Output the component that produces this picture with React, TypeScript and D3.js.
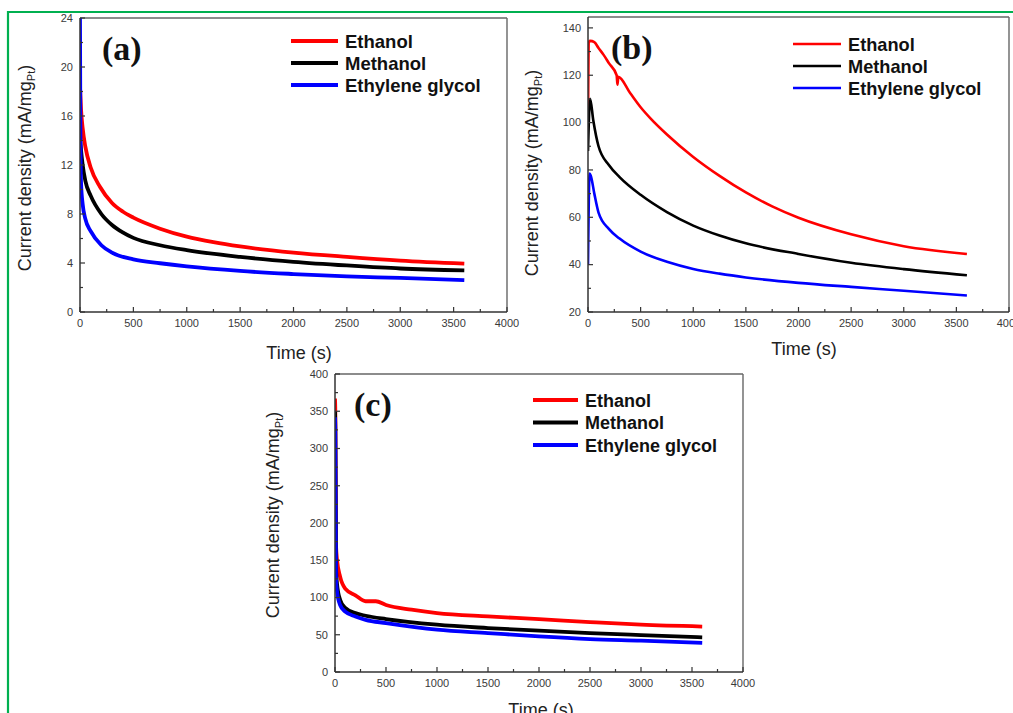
import React from "react";
import * as d3 from "d3";

// ---- Data ----
const xTicks = [0, 500, 1000, 1500, 2000, 2500, 3000, 3500, 4000];
const xMinorTicks = [250, 750, 1250, 1750, 2250, 2750, 3250, 3750];
const seriesNames = ["Ethanol", "Methanol", "Ethylene glycol"];
const seriesColors = ["#ff0000", "#000000", "#0000ff"];

// Panel (a)
const aYTicks = [0, 4, 8, 12, 16, 20, 24];
const aYMinor = [2, 6, 10, 14, 18, 22];
const aEthanol: [number, number][] = [[1, 18.2], [10, 16.5], [25, 15], [50, 13.5], [100, 11.8], [188, 10.2], [300, 8.9], [400, 8.2], [500, 7.7], [750, 6.8], [1000, 6.15], [1250, 5.7], [1500, 5.35], [2000, 4.85], [2500, 4.5], [3000, 4.2], [3600, 3.95]];
const aMethanol: [number, number][] = [[1, 14.2], [10, 13.2], [25, 12], [50, 10.7], [100, 9.5], [200, 8.0], [300, 7.1], [400, 6.5], [500, 6.05], [750, 5.45], [1000, 5.05], [1500, 4.5], [2000, 4.1], [2500, 3.8], [3000, 3.55], [3600, 3.4]];
const aGlycol: [number, number][] = [[0, 24], [3, 16], [10, 10.5], [25, 8.8], [50, 7.6], [100, 6.6], [200, 5.45], [300, 4.85], [500, 4.3], [750, 3.98], [1000, 3.72], [1500, 3.35], [2000, 3.1], [2500, 2.9], [3000, 2.78], [3600, 2.6]];

// Panel (b)
const bYTicks = [20, 40, 60, 80, 100, 120, 140];
const bYMinor = [30, 50, 70, 90, 110, 130];
const bEthanol: [number, number][] = [[0, 100], [8, 134], [20, 134.5], [60, 134], [100, 131.5], [150, 128.5], [200, 125], [272, 120], [280, 116], [288, 119.3], [400, 112.5], [500, 106.5], [600, 101.5], [750, 95], [1000, 85.5], [1250, 77.5], [1500, 70.5], [1750, 64.6], [2000, 59.8], [2500, 52.8], [3000, 47.8], [3600, 44.5]];
const bMethanol: [number, number][] = [[0, 88], [20, 110], [50, 101], [100, 90], [200, 82], [300, 77], [500, 69.5], [750, 62.2], [1000, 56.5], [1250, 52.3], [1500, 49], [2000, 44.5], [2500, 40.8], [3000, 38.1], [3600, 35.5]];
const bGlycol: [number, number][] = [[0, 40], [15, 78.5], [30, 77], [60, 70], [100, 62], [200, 55], [300, 51], [500, 45.5], [750, 41.2], [1000, 38.2], [1250, 36.2], [1500, 34.6], [2000, 32.3], [2500, 30.6], [3000, 29], [3600, 27]];

// Panel (c)
const cYTicks = [0, 50, 100, 150, 200, 250, 300, 350, 400];
const cYMinor = [25, 75, 125, 175, 225, 275, 325, 375];
const cEthanol: [number, number][] = [[0, 367], [3, 350], [10, 170], [20, 150], [50, 128], [100, 112], [200, 103], [300, 95], [400, 95], [500, 90], [750, 83.6], [1000, 79], [1500, 74.6], [2000, 71], [2500, 67], [3000, 63.5], [3600, 61]];
const cMethanol: [number, number][] = [[0, 350], [3, 330], [10, 140], [20, 118], [50, 97], [100, 86], [200, 79], [300, 75.5], [500, 71], [1000, 63.5], [1500, 59], [2000, 55.4], [2500, 52.3], [3000, 49.6], [3600, 46.5]];
const cGlycol: [number, number][] = [[0, 342], [3, 320], [10, 125], [20, 108], [50, 90], [100, 81], [200, 74.6], [300, 70], [500, 65.7], [1000, 56.8], [1500, 52.3], [2000, 47.8], [2500, 44.2], [3000, 42], [3600, 39]];

type PanelProps = {
  left: number; right: number; top: number; bottom: number;
  yDomain: [number, number]; yTicks: number[]; yMinor: number[];
  series: [number, number][][];
  label: string; labelX: number; labelY: number;
  legX: number; legY: number; legGap: number; legLen: number; legFont: number;
  lineW: number; legLineW: number;
  yTitleX: number; yTitleY: number; xTitleY: number; xTitleX: number;
};

const SANS = "'Liberation Sans', Arial, sans-serif";

function Panel(p: PanelProps) {
  const x = d3.scaleLinear().domain([0, 4000]).range([p.left, p.right]);
  const y = d3.scaleLinear().domain(p.yDomain).range([p.bottom, p.top]);
  const line = d3.line<[number, number]>().x(d => x(d[0])).y(d => y(d[1])).curve(d3.curveMonotoneX);
  const clipId = "clip-" + p.label.replace(/[()]/g, "");
  return (
    <g>
      <defs>
        <clipPath id={clipId}>
          <rect x={p.left} y={p.top - 2} width={p.right - p.left} height={p.bottom - p.top + 2} />
        </clipPath>
      </defs>
      {/* frame */}
      <line x1={p.left} x2={p.right} y1={p.top} y2={p.top} stroke="#666" strokeWidth={1.4} />
      <line x1={p.right} x2={p.right} y1={p.top} y2={p.bottom} stroke="#666" strokeWidth={1.4} />
      {/* series */}
      <g clipPath={`url(#${clipId})`}>
        {p.series.map((s, i) => (
          <path key={i} d={line(s) || ""} fill="none" stroke={seriesColors[i]} strokeWidth={p.lineW} strokeLinejoin="round" />
        ))}
      </g>
      <line x1={p.left} x2={p.right} y1={p.bottom} y2={p.bottom} stroke="#333" strokeWidth={1.5} />
      <line x1={p.left} x2={p.left} y1={p.top} y2={p.bottom} stroke="#333" strokeWidth={1.5} />
      {/* x ticks */}
      {xTicks.map(t => (
        <g key={"xt" + t}>
          <line x1={x(t)} x2={x(t)} y1={p.bottom} y2={p.bottom - 5} stroke="#333" strokeWidth={1.2} />
          <text x={x(t)} y={p.bottom + 15} textAnchor="middle" fontFamily={SANS} fontSize={11} fill="#3a3a3a">{t}</text>
        </g>
      ))}
      {xMinorTicks.map(t => (
        <line key={"xm" + t} x1={x(t)} x2={x(t)} y1={p.bottom} y2={p.bottom - 3} stroke="#333" strokeWidth={1.2} />
      ))}
      {/* y ticks */}
      {p.yTicks.map(t => (
        <g key={"yt" + t}>
          <line x1={p.left} x2={p.left + 5} y1={y(t)} y2={y(t)} stroke="#333" strokeWidth={1.2} />
          <text x={p.left - 7} y={y(t)} dy="0.35em" textAnchor="end" fontFamily={SANS} fontSize={11} fill="#3a3a3a">{t}</text>
        </g>
      ))}
      {p.yMinor.map(t => (
        <line key={"ym" + t} x1={p.left} x2={p.left + 3} y1={y(t)} y2={y(t)} stroke="#333" strokeWidth={1.2} />
      ))}
      {/* titles */}
      <text x={p.xTitleX} y={p.xTitleY} textAnchor="middle" fontFamily={SANS} fontSize={18} fill="#222">Time (s)</text>
      <text transform={`translate(${p.yTitleX},${p.yTitleY}) rotate(-90)`} textAnchor="middle" fontFamily={SANS} fontSize={18} fill="#222">
        Current density (mA/mg<tspan fontSize={11} dy={4}>Pt</tspan><tspan dy={-4}>)</tspan>
      </text>
      {/* panel label */}
      <text x={p.labelX} y={p.labelY} fontFamily="'Liberation Serif', 'Times New Roman', serif" fontWeight="bold" fontSize={34} fill="#111">{p.label}</text>
      {/* legend */}
      {seriesNames.map((n, i) => {
        const ly = p.legY + i * p.legGap;
        return (
          <g key={n}>
            <line x1={p.legX} x2={p.legX + p.legLen} y1={ly} y2={ly} stroke={seriesColors[i]} strokeWidth={p.legLineW} />
            <text x={p.legX + p.legLen + 7} y={ly + 6.5} fontFamily={SANS} fontWeight="bold" fontSize={p.legFont} fill="#111">{n}</text>
          </g>
        );
      })}
    </g>
  );
}

export default function App() {
  return (
    <svg width={1013} height={713} style={{ position: "absolute", left: 0, top: 0, background: "#fff" }}>
      <rect x={0} y={0} width={1013} height={713} fill="#fff" />
      {/* green frame */}
      <line x1={8} x2={1013} y1={12} y2={12} stroke="#00b050" strokeWidth={2.2} />
      <line x1={8} x2={8} y1={11} y2={713} stroke="#00b050" strokeWidth={2.2} />
      <Panel left={80} right={507} top={18} bottom={312} yDomain={[0, 24]} yTicks={aYTicks} yMinor={aYMinor}
        series={[aEthanol, aMethanol, aGlycol]} label="(a)" labelX={102} labelY={60}
        legX={291} legY={41} legGap={22} legLen={47} legFont={18.5} lineW={3.8} legLineW={3.8}
        yTitleX={31} yTitleY={168} xTitleX={299} xTitleY={359} />
      <Panel left={588} right={1009} top={17} bottom={312} yDomain={[20, 144.6]} yTicks={bYTicks} yMinor={bYMinor}
        series={[bEthanol, bMethanol, bGlycol]} label="(b)" labelX={611} labelY={59}
        legX={793} legY={44} legGap={22} legLen={48} legFont={18.2} lineW={2.6} legLineW={2.4}
        yTitleX={538} yTitleY={173} xTitleX={804} xTitleY={355} />
      <Panel left={335} right={743} top={374} bottom={672} yDomain={[0, 400]} yTicks={cYTicks} yMinor={cYMinor}
        series={[cEthanol, cMethanol, cGlycol]} label="(c)" labelX={354} labelY={416}
        legX={533} legY={400} legGap={22.5} legLen={45} legFont={18} lineW={3.8} legLineW={3.8}
        yTitleX={279} yTitleY={515} xTitleX={541} xTitleY={716} />
    </svg>
  );
}
